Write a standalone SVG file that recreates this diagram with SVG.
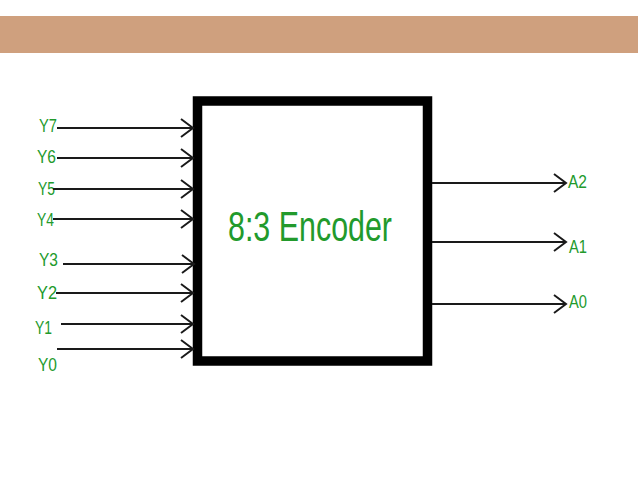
<svg xmlns="http://www.w3.org/2000/svg" width="638" height="479" viewBox="0 0 638 479">
<style>
.lbl{font-family:"Liberation Sans",Arial,sans-serif;font-size:18px;fill:#229a2c}
.title{font-family:"Liberation Sans",Arial,sans-serif;font-size:42px;fill:#229a2c}
.wire{stroke:#1a1a1a;stroke-width:2;fill:none;marker-end:url(#arr)}
</style>
<defs>
<marker id="arr" markerUnits="userSpaceOnUse" markerWidth="16" markerHeight="22" refX="13" refY="10" orient="auto">
<path d="M1,1 L13,10 L1,19" fill="none" stroke="#1a1a1a" stroke-width="2"/>
</marker>
</defs>
<rect x="0" y="0" width="638" height="479" fill="#ffffff"/>
<rect id="banner" x="0" y="16" width="638" height="37" fill="#cfa07e"/>
<g id="encoder">
<rect x="197.5" y="101" width="230" height="260" fill="#ffffff" stroke="#000000" stroke-width="9.5"/>
<text class="title" x="228" y="241" textLength="164" lengthAdjust="spacingAndGlyphs">8:3 Encoder</text>
</g>
<g id="inputs">
<text class="lbl" x="39" y="132" textLength="18" lengthAdjust="spacingAndGlyphs">Y7</text>
<text class="lbl" x="37" y="163" textLength="19" lengthAdjust="spacingAndGlyphs">Y6</text>
<text class="lbl" x="38" y="195" textLength="17" lengthAdjust="spacingAndGlyphs">Y5</text>
<text class="lbl" x="37" y="226" textLength="17" lengthAdjust="spacingAndGlyphs">Y4</text>
<text class="lbl" x="39" y="266" textLength="19" lengthAdjust="spacingAndGlyphs">Y3</text>
<text class="lbl" x="37" y="299" textLength="20" lengthAdjust="spacingAndGlyphs">Y2</text>
<text class="lbl" x="35" y="334" textLength="17" lengthAdjust="spacingAndGlyphs">Y1</text>
<text class="lbl" x="38" y="371" textLength="19" lengthAdjust="spacingAndGlyphs">Y0</text>
</g>
<g id="outputs">
<text class="lbl" x="568" y="188" textLength="19" lengthAdjust="spacingAndGlyphs">A2</text>
<text class="lbl" x="569" y="253" textLength="18" lengthAdjust="spacingAndGlyphs">A1</text>
<text class="lbl" x="569" y="308" textLength="18" lengthAdjust="spacingAndGlyphs">A0</text>
</g>
<g id="connectors">
<line class="wire" x1="57" y1="128" x2="193" y2="128"/>
<line class="wire" x1="57" y1="158" x2="193" y2="158"/>
<line class="wire" x1="53" y1="189" x2="193" y2="189"/>
<line class="wire" x1="53" y1="219" x2="193" y2="219"/>
<line class="wire" x1="63" y1="264" x2="194" y2="264"/>
<line class="wire" x1="56" y1="293" x2="193" y2="293"/>
<line class="wire" x1="61" y1="324" x2="193" y2="324"/>
<line class="wire" x1="57" y1="349" x2="193" y2="349"/>
<line class="wire" x1="432" y1="183" x2="566" y2="183"/>
<line class="wire" x1="432" y1="242" x2="566" y2="242"/>
<line class="wire" x1="432" y1="304" x2="566" y2="304"/>
</g>
</svg>
